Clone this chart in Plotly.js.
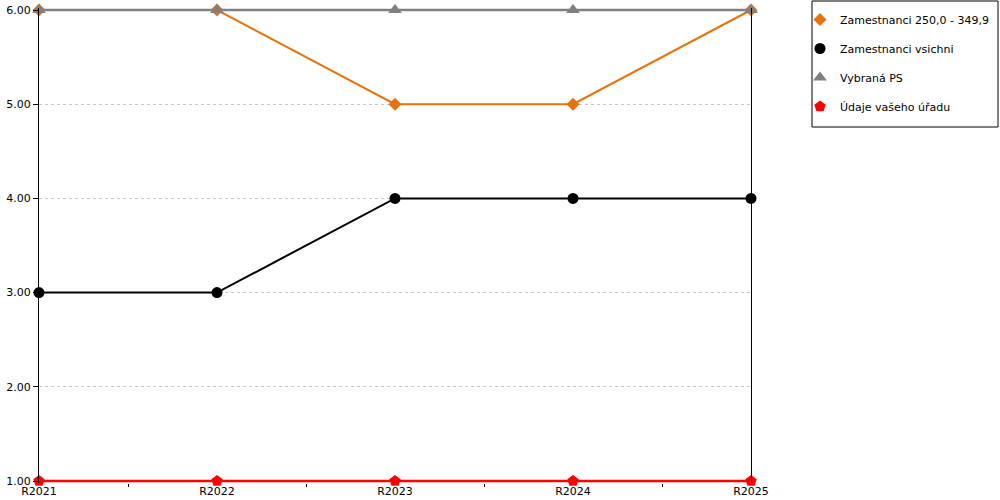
<!DOCTYPE html>
<html>
<head>
<meta charset="utf-8">
<script src="https://cdn.plot.ly/plotly-3.0.1.min.js"></script>
<style>
  html, body { margin: 0; padding: 0; background: #ffffff; }
  #chart { width: 1000px; height: 500px; }
</style>
</head>
<body>
<div id="chart"></div>
<script>
const years = ['R2021', 'R2022', 'R2023', 'R2024', 'R2025']
const zam250 = [6, 6, 5, 5, 6]
const zamVsichni = [3, 3, 4, 4, 4]
const vybranaPS = [6, 6, 6, 6, 6]
const udajeUradu = [1, 1, 1, 1, 1]

const series = [
  { name: 'Zamestnanci 250,0 - 349,9', y: zam250, color: '#e8720c', symbol: 'diamond', size: 10, width: 2 },
  { name: 'Zamestnanci vsichni', y: zamVsichni, color: '#000000', symbol: 'circle', size: 11, width: 2 },
  { name: 'Vybraná PS', y: vybranaPS, color: '#808080', symbol: 'triangle-up', size: 12, width: 2.5 },
  { name: 'Údaje vašeho úřadu', y: udajeUradu, color: '#ff0000', symbol: 'pentagon', size: 12, width: 2.5 },
]

const data = []
series.forEach((s, i) => {
  // line without legend entry, markers carry the legend
  data.push({
    type: 'scatter', mode: 'lines', x: years, y: s.y,
    line: { color: s.color, width: s.width },
    showlegend: false, hoverinfo: 'skip',
  })
  data.push({
    type: 'scatter', mode: 'markers', x: years, y: s.y, name: s.name,
    legendgroup: 'g' + i,
    marker: { color: s.color, symbol: s.symbol, size: s.size },
    cliponaxis: false,
  })
})

// plot area padded by 2px top and bottom so the edge lines are not clipped
const pad = 2 / 94.2

const layout = {
  width: 1000,
  height: 500,
  paper_bgcolor: '#ffffff',
  plot_bgcolor: '#ffffff',
  font: { family: 'DejaVu Sans, Verdana, sans-serif', size: 11, color: '#000000' },
  margin: { l: 39, r: 249, t: 8, b: 17 },
  xaxis: {
    type: 'category',
    range: [0, 4],
    tickson: 'boundaries',
    ticks: 'outside',
    ticklen: 3,
    tickcolor: '#000000',
    showgrid: false,
    showline: false,
    zeroline: false,
    fixedrange: true,
  },
  yaxis: {
    range: [1 - pad, 6 + pad],
    tickvals: [1, 2, 3, 4, 5, 6],
    tickformat: '.2f',
    ticks: 'outside',
    ticklen: 5,
    tickcolor: '#000000',
    showline: true,
    mirror: true,
    linecolor: '#000000',
    gridcolor: '#c8c8c8',
    griddash: 'dot',
    zeroline: false,
    fixedrange: true,
  },
  legend: {
    xref: 'container', yref: 'container',
    x: 0.800, y: 0.990, xanchor: 'left', yanchor: 'top',
    borderwidth: 0,
    bgcolor: 'rgba(0,0,0,0)',
    traceorder: 'grouped',
    tracegroupgap: 10,
    font: { size: 11 },
  },
  shapes: [{
    type: 'rect', xref: 'paper', yref: 'paper',
    x0: (812 - 39) / 712, x1: (998 - 39) / 712,
    y0: (483 - 127) / 475, y1: (483 - 1) / 475,
    line: { color: '#000000', width: 1 },
    fillcolor: 'rgba(0,0,0,0)',
    layer: 'below',
  }],
  showlegend: true,
}

Plotly.newPlot('chart', data, layout, { displayModeBar: false, staticPlot: true })
</script>
</body>
</html>
